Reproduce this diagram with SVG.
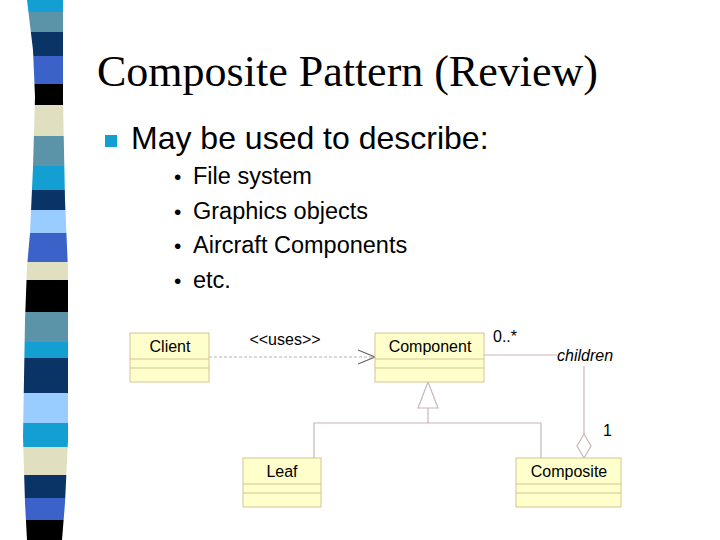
<svg xmlns="http://www.w3.org/2000/svg" width="720" height="540" viewBox="0 0 720 540">
<style>
.t{font-family:"Liberation Sans",Arial,sans-serif;fill:#000}
.box{fill:#ffffcc;stroke:#d4c494;stroke-width:1}
.sep{stroke:#d4c494;stroke-width:1;fill:none}
.ln{stroke:#c9b6b8;stroke-width:1.2;fill:none}
.lbl{font-family:"Liberation Sans",Arial,sans-serif;font-size:16px;fill:#000;text-anchor:middle}
</style>
<defs>
<clipPath id="bar">
<polygon points="27,0 63,0 63,100 65,200 68,270 68,440 65,503 62,540 27,540 25,503 23,437 25,320 27,267 30,233 33,167 35,97 33,50"/>
</clipPath>
</defs>
<rect width="720" height="540" fill="#fff"/>
<g id="stripes" clip-path="url(#bar)">
<rect x="0" y="0" width="80" height="12" fill="#149fd2"/>
<rect x="0" y="12" width="80" height="20" fill="#5b93a8"/>
<rect x="0" y="32" width="80" height="24" fill="#0a3366"/>
<rect x="0" y="56" width="80" height="28" fill="#3a62c8"/>
<rect x="0" y="84" width="80" height="21" fill="#000"/>
<rect x="0" y="105" width="80" height="31" fill="#e0e0c0"/>
<rect x="0" y="136" width="80" height="30" fill="#5b93a8"/>
<rect x="0" y="166" width="80" height="24" fill="#149fd2"/>
<rect x="0" y="190" width="80" height="20" fill="#0a3366"/>
<rect x="0" y="210" width="80" height="23" fill="#99ccff"/>
<rect x="0" y="233" width="80" height="29" fill="#3a62c8"/>
<rect x="0" y="262" width="80" height="18" fill="#e0e0c0"/>
<rect x="0" y="280" width="80" height="32" fill="#000"/>
<rect x="0" y="312" width="80" height="30" fill="#5b93a8"/>
<rect x="0" y="342" width="80" height="16" fill="#149fd2"/>
<rect x="0" y="358" width="80" height="35" fill="#0a3366"/>
<rect x="0" y="393" width="80" height="30" fill="#99ccff"/>
<rect x="0" y="423" width="80" height="24" fill="#149fd2"/>
<rect x="0" y="447" width="80" height="28" fill="#e0e0c0"/>
<rect x="0" y="475" width="80" height="23" fill="#0a3366"/>
<rect x="0" y="498" width="80" height="22" fill="#3a62c8"/>
<rect x="0" y="520" width="80" height="20" fill="#000"/>
</g>
<g id="title">
<text x="97" y="86" font-family="'Liberation Serif','Times New Roman',serif" font-size="44" fill="#000">Composite Pattern (Review)</text>
</g>
<g id="bullets">
<rect x="105" y="135" width="12" height="12" fill="#149fd2"/>
<text class="t" x="131" y="149" font-size="32">May be used to describe:</text>
<g font-size="23.5">
<text class="t" x="174" y="184" font-size="21">•</text><text class="t" x="193" y="184">File system</text>
<text class="t" x="174" y="219" font-size="21">•</text><text class="t" x="193" y="219">Graphics objects</text>
<text class="t" x="174" y="253" font-size="21">•</text><text class="t" x="193" y="253">Aircraft Components</text>
<text class="t" x="174" y="288" font-size="21">•</text><text class="t" x="193" y="288">etc.</text>
</g>
</g>
<g id="connectors">
<line x1="209" y1="357" x2="375" y2="357" stroke="#b8b0b0" stroke-width="1" stroke-dasharray="3,2"/>
<polyline points="358,350 375,357 358,364" fill="none" stroke="#666" stroke-width="1.2"/>
<text class="lbl" x="285" y="345">&lt;&lt;uses&gt;&gt;</text>
<line class="ln" x1="484" y1="355" x2="557" y2="355"/>
<text class="t" x="493" y="342" font-size="16">0..*</text>
<text class="t" x="557" y="361" font-size="16" font-style="italic">children</text>
<line class="ln" x1="584" y1="366" x2="584" y2="434"/>
<polygon class="ln" points="584,434 591,446 584,458 577,446" fill="#fff"/>
<text class="t" x="603" y="436" font-size="16">1</text>
<polygon class="ln" points="428,382 438,408 418,408" fill="#fff"/>
<polyline class="ln" points="428,408 428,423"/>
<polyline class="ln" points="314,458 314,423 541,423 541,458"/>
</g>
<g id="client">
<rect class="box" x="130" y="333" width="79" height="49"/>
<line class="sep" x1="130" y1="359" x2="209" y2="359"/>
<line class="sep" x1="130" y1="368" x2="209" y2="368"/>
<text class="lbl" x="170" y="352">Client</text>
</g>
<g id="component">
<rect class="box" x="375" y="333" width="109" height="49"/>
<line class="sep" x1="375" y1="359" x2="484" y2="359"/>
<line class="sep" x1="375" y1="368" x2="484" y2="368"/>
<text class="lbl" x="430" y="352">Component</text>
</g>
<g id="leaf">
<rect class="box" x="243" y="458" width="78" height="49"/>
<line class="sep" x1="243" y1="484" x2="321" y2="484"/>
<line class="sep" x1="243" y1="493" x2="321" y2="493"/>
<text class="lbl" x="282" y="477">Leaf</text>
</g>
<g id="composite">
<rect class="box" x="516" y="458" width="105" height="49"/>
<line class="sep" x1="516" y1="484" x2="621" y2="484"/>
<line class="sep" x1="516" y1="493" x2="621" y2="493"/>
<text class="lbl" x="569" y="477">Composite</text>
</g>
</svg>
